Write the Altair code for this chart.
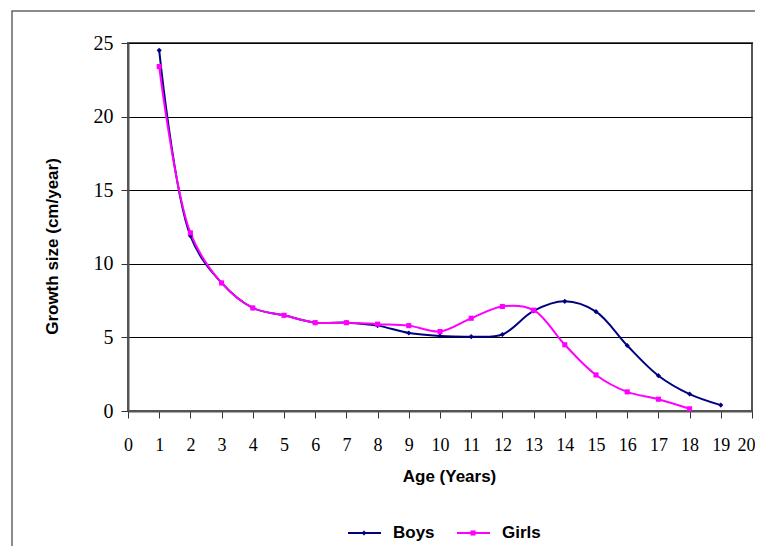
import altair as alt
import pandas as pd

# ---- data ----
series_names = ["Boys", "Girls"]
series_colors = ["#000080", "#FF00FF"]
series_shapes = ["diamond", "square"]

ages_boys = list(range(1, 20))
boys = [24.5, 11.9, 8.7, 7.0, 6.5, 6.0, 6.0, 5.8, 5.3, 5.1, 5.05, 5.2, 6.8, 7.45, 6.75, 4.45, 2.4, 1.15, 0.4]

ages_girls = list(range(1, 19))
girls = [23.4, 12.1, 8.7, 7.0, 6.5, 6.0, 6.0, 5.9, 5.8, 5.4, 6.3, 7.1, 6.85, 4.5, 2.45, 1.3, 0.8, 0.15]

x_ticks = list(range(0, 21))
y_ticks = [0, 5, 10, 15, 20, 25]

x_title = "Age (Years)"
y_title = "Growth size (cm/year)"

# ---- tables ----
df = pd.concat([
    pd.DataFrame({"age": ages_boys, "value": boys, "series": "Boys"}),
    pd.DataFrame({"age": ages_girls, "value": girls, "series": "Girls"}),
], ignore_index=True)
legend_df = pd.DataFrame({"series": series_names})
frame_df = pd.DataFrame({"k": [0]})

W, H = 624, 368
SANS = "Liberation Sans"
SERIF = "Liberation Serif"

x_enc = alt.X(
    "age:Q",
    scale=alt.Scale(domain=[0, 20], nice=False, zero=False),
    axis=alt.Axis(
        values=x_ticks, title=x_title, grid=False,
        labelFont=SERIF, labelFontSize=18, labelColor="black",
        labelOffset={"condition": {"test": "datum.value >= 20", "value": -6}, "value": 0},
        labelPadding=18, tickSize=7, tickColor="#333", domainColor="#555", domainWidth=2,
        titleFont=SANS, titleFontSize=17, titleFontWeight="bold", titleColor="black",
        titleX=321, titleY=65, titleBaseline="middle", labelFlush=False,
    ),
)
y_enc = alt.Y(
    "value:Q",
    scale=alt.Scale(domain=[0, 25], nice=False),
    axis=alt.Axis(
        values=y_ticks, title=y_title, grid=True, gridColor="black", gridWidth=1, gridOpacity=1,
        labelFont=SERIF, labelFontSize=20, labelColor="black",
        labelPadding=8, tickSize=7, tickColor="#333", domainColor="#555", domainWidth=2,
        titleFont=SANS, titleFontSize=17, titleFontWeight="bold", titleColor="black",
        titleX=-76, titleY=203, titleAlign="center", titleBaseline="middle", titleAngle=-90,
    ),
)
color_enc = alt.Color("series:N", scale=alt.Scale(domain=series_names, range=series_colors), legend=None)

lines = alt.Chart(df).mark_line(interpolate="catmull-rom", strokeWidth=2).encode(
    x=x_enc, y=y_enc, color=color_enc, detail="series:N"
)
points = alt.Chart(df).mark_point(filled=True, opacity=1, size=26).encode(
    x=x_enc, y=y_enc, color=color_enc,
    shape=alt.Shape("series:N", scale=alt.Scale(domain=series_names, range=series_shapes), legend=None),
)

# outer frame of the figure
frame = alt.Chart(frame_df).mark_rect(fill="transparent", stroke="#666", strokeWidth=1.5).encode(
    x=alt.value(-116), x2=alt.value(760), y=alt.value(-32), y2=alt.value(700)
)

# legend at the bottom
legend_layers = []
legend_x = [220, 329]
legend_y = 490
for name, col, shp, x0 in zip(series_names, series_colors, series_shapes, legend_x):
    base = alt.Chart(legend_df).transform_filter(alt.datum.series == name)
    legend_layers.append(base.mark_rule(color=col, strokeWidth=2).encode(
        x=alt.value(x0), x2=alt.value(x0 + 33), y=alt.value(legend_y)))
    legend_layers.append(base.mark_point(filled=True, opacity=1, size=26, shape=shp, color=col).encode(
        x=alt.value(x0 + 16), y=alt.value(legend_y)))
    legend_layers.append(base.mark_text(align="left", baseline="middle", font=SANS, fontSize=17,
                                        fontWeight="bold", color="black").encode(
        x=alt.value(x0 + 45), y=alt.value(legend_y), text="series:N"))

chart = alt.layer(frame, lines, points, *legend_layers).properties(
    width=W, height=H,
    autosize=alt.AutoSizeParams(type="none"),
    padding={"left": 120, "top": 35, "right": 3, "bottom": 135},
    background="white",
).configure_view(stroke="#555", strokeWidth=2)

chart.save("out.html", embed_options={"renderer": "svg", "actions": False})
